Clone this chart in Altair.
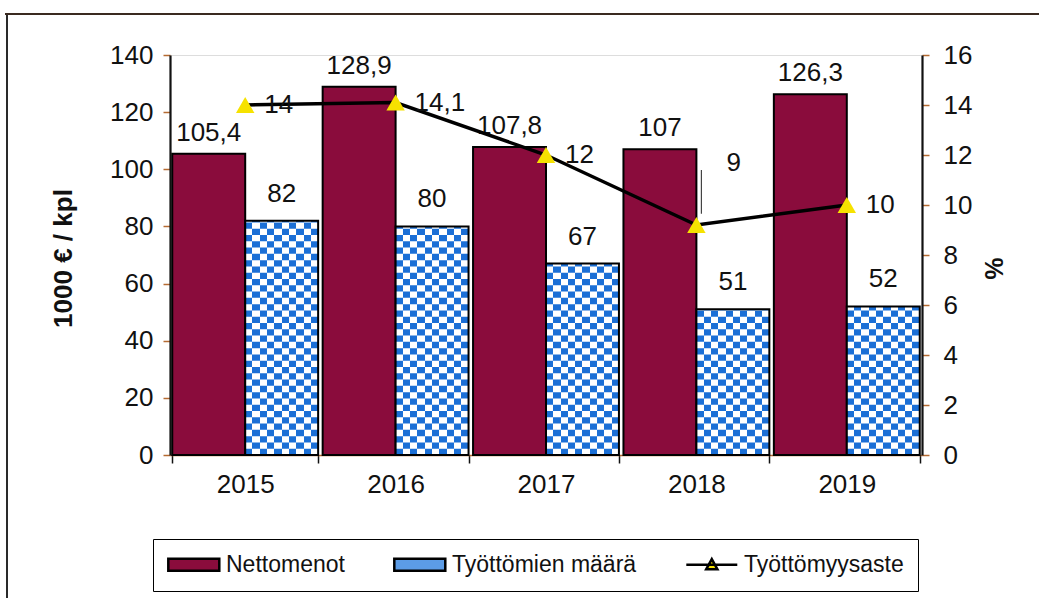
import altair as alt
import pandas as pd

# ---------------- data ----------------
years = ["2015", "2016", "2017", "2018", "2019"]
nettomenot = [105.4, 128.9, 107.8, 107, 126.3]
tyottomat = [82, 80, 67, 51, 52]
aste = [14, 14.1, 12, 9.2, 10]
aste_labels = ["14", "14,1", "12", "9", "10"]
series = ["Nettomenot", "Työttömien määrä", "Työttömyysaste"]
left_ticks = [0, 20, 40, 60, 80, 100, 120, 140]
right_ticks = [0, 2, 4, 6, 8, 10, 12, 14, 16]

# ---------------- styling ----------------
FONT = "Liberation Sans"
MAROON = "#8a0c3c"
BLUE = "#1b6fd6"
YELLOW = "#f6e200"
BROWN = "#b56b32"
INK = "#111111"
FS = 26
CELL = 2.2  # checker cell height in data units (pattern only)


def fmt(v):
    return f"{v:g}".replace(".", ",")


bars = pd.DataFrame({
    "year": years * 2,
    "series": [series[0]] * len(years) + [series[1]] * len(years),
    "value": nettomenot + tyottomat,
})
bars["label"] = bars["value"].map(fmt)

line_df = pd.DataFrame({"year": years, "aste": aste, "label": aste_labels})

# odd rows of the checker pattern, derived from the bar values
rows = []
for y, v in zip(years, tyottomat):
    k = 1
    while k * CELL < v:
        rows.append({"year": y, "series": series[1], "lo": k * CELL, "hi": min((k + 1) * CELL, v)})
        k += 2
cells = pd.DataFrame(rows)


def stripes(first, second, n=10):
    stops = []
    for i in range(n):
        c = first if i % 2 == 0 else second
        stops.append({"offset": i / n, "color": c})
        stops.append({"offset": (i + 1) / n, "color": c})
    return {"gradient": "linear", "x1": 0, "x2": 1, "y1": 0, "y2": 0, "stops": stops}


grad_a = stripes(BLUE, "#ffffff")
grad_b = stripes("#ffffff", BLUE)

X = alt.X(
    "year:N",
    title=None,
    scale=alt.Scale(domain=years, paddingInner=0.03, paddingOuter=0.015),
    axis=alt.Axis(
        labelAngle=0, labelFont=FONT, labelFontSize=FS, labelColor=INK,
        labelPadding=8, tickBand="extent", tickSize=8, tickColor=INK, tickWidth=1.5,
        domainColor=BROWN, domainWidth=1.5, grid=False,
    ),
)
XO = alt.XOffset("series:N", scale=alt.Scale(domain=series[:2], paddingInner=0, paddingOuter=0))

LTITLE = "1000 € / kpl"
left_axis = alt.Axis(
    values=left_ticks, grid=False, labelFont=FONT, labelFontSize=FS, labelColor=INK,
    labelPadding=10, tickSize=7, tickColor=BROWN, tickWidth=1.5,
    domainColor=INK, domainWidth=2.2,
    titleFont=FONT, titleFontSize=26, titleFontWeight="bold", titleColor=INK,
    titleAngle=-90, titleX=-107, titleY=203, titleAlign="center", titleBaseline="middle",
)
yscale = alt.Scale(domain=[0, 140], nice=False)

net = alt.Chart(bars).transform_filter(alt.datum.series == series[0])
tyo = alt.Chart(bars).transform_filter(alt.datum.series == series[1])

maroon_bars = net.mark_bar(color=MAROON, stroke="black", strokeWidth=2).encode(
    x=X, xOffset=XO, y=alt.Y("value:Q", scale=yscale, axis=left_axis, title=LTITLE)
)
blue_base = tyo.mark_bar(fill=grad_a, strokeWidth=0).encode(
    x=X, xOffset=XO, y=alt.Y("value:Q", scale=yscale, title=LTITLE)
)
blue_cells = alt.Chart(cells).mark_bar(fill=grad_b, strokeWidth=0).encode(
    x=X, xOffset=XO, y=alt.Y("lo:Q", scale=yscale, title=LTITLE), y2="hi:Q"
)
blue_outline = tyo.mark_bar(fillOpacity=0, stroke="black", strokeWidth=2).encode(
    x=X, xOffset=XO, y=alt.Y("value:Q", scale=yscale, title=LTITLE)
)
net_labels = net.mark_text(font=FONT, fontSize=FS, color=INK, baseline="alphabetic", dy=-13).encode(
    x=X, xOffset=XO, y=alt.Y("value:Q", scale=yscale, title=LTITLE), text="label:N"
)
tyo_labels = tyo.mark_text(font=FONT, fontSize=FS, color=INK, baseline="alphabetic", dy=-19).encode(
    x=X, xOffset=XO, y=alt.Y("value:Q", scale=yscale, title=LTITLE), text="label:N"
)

left = alt.layer(maroon_bars, blue_base, blue_cells, blue_outline, net_labels, tyo_labels)

right_axis = alt.Axis(
    orient="right", values=right_ticks, grid=False, labelFont=FONT, labelFontSize=FS,
    labelColor=INK, labelPadding=14, tickSize=7, tickColor=BROWN, tickWidth=1.5,
    domainColor=INK, domainWidth=2.2,
    titleFont=FONT, titleFontSize=25, titleFontWeight="bold", titleColor=INK,
    titleX=70, titleY=213, titleAlign="center", titleBaseline="middle", titleAngle=90,
)
Y2 = alt.Y("aste:Q", scale=alt.Scale(domain=[0, 16], nice=False), axis=right_axis, title="%")

lbase = alt.Chart(line_df).encode(x=X, y=Y2)
line = lbase.mark_line(color="black", strokeWidth=3.5)
pts = lbase.mark_point(shape="triangle-up", filled=True, color=YELLOW, size=340, opacity=1)
lab = lbase.transform_filter(alt.datum.year != "2018").mark_text(
    font=FONT, fontSize=FS, color=INK, align="left", baseline="middle", dx=19
).encode(text="label:N")
lab9 = lbase.transform_filter(alt.datum.year == "2018").mark_text(
    font=FONT, fontSize=FS, color=INK, align="left", baseline="middle", dx=30, dy=-62
).encode(text="label:N")
# thin leader line from the 2018 point up to its label
leader = alt.Chart(line_df).transform_filter(alt.datum.year == "2018").transform_calculate(
    top="datum.aste + 2.2", bottom="datum.aste + 0.45"
).mark_rule(color="#444444", strokeWidth=1.2, xOffset=5).encode(
    x=X, y=alt.Y("bottom:Q", scale=alt.Scale(domain=[0, 16], nice=False), title="%"), y2="top:Q"
)

right = alt.layer(line, leader, pts, lab, lab9)

# legend driver (drawn off-canvas; only its legend is visible)
RECT = "M-1,-0.6H4V0.6H-1Z"
LINESYM = "M-1,0H4M1.5,-0.55L2.05,0.45L0.95,0.45Z"
leg_df = pd.DataFrame({"series": series})
leg = alt.Legend(
    title=None, orient="none", legendX=-17, legendY=484, direction="horizontal", columns=3,
    columnPadding=44, symbolSize=416, symbolStrokeWidth=2.5,
    symbolOpacity=1, labelFont=FONT, labelFontSize=23, labelColor=INK, labelOffset=36,
    labelLimit=0, strokeColor="black", fillColor="white", padding=14, cornerRadius=0,
)
legend_layer = alt.Chart(leg_df).mark_point(filled=True, opacity=1, strokeWidth=2.5).encode(
    x=alt.value(-3000), y=alt.value(-3000),
    color=alt.Color("series:N", scale=alt.Scale(domain=series, range=[MAROON, "#5c9ce6", YELLOW]), legend=leg),
    stroke=alt.Stroke("series:N", scale=alt.Scale(domain=series, range=["black", "black", "black"]), legend=leg),
    shape=alt.Shape("series:N", scale=alt.Scale(domain=series, range=[RECT, RECT, LINESYM]), legend=leg),
)

# outer frame of the figure (decoration)
frame_df = pd.DataFrame({"k": [0]})
frame_left = alt.Chart(frame_df).mark_rule(color="#2a2a2a", strokeWidth=2).encode(
    x=alt.value(-163), y=alt.value(-41), y2=alt.value(560)
)
frame_top = alt.Chart(frame_df).mark_rule(color="#3a2a20", strokeWidth=2).encode(
    x=alt.value(-165), x2=alt.value(900), y=alt.value(-41)
)

chart = alt.layer(left, right, legend_layer, frame_left, frame_top).resolve_scale(
    y="independent"
).properties(
    width=752, height=400,
    autosize=alt.AutoSizeParams(type="none"),
    padding={"left": 170, "top": 55, "right": 117, "bottom": 143},
).configure_view(stroke=BROWN, strokeWidth=1.5).configure(background="white")

chart.save("out.html", embed_options={"renderer": "svg", "actions": False})
